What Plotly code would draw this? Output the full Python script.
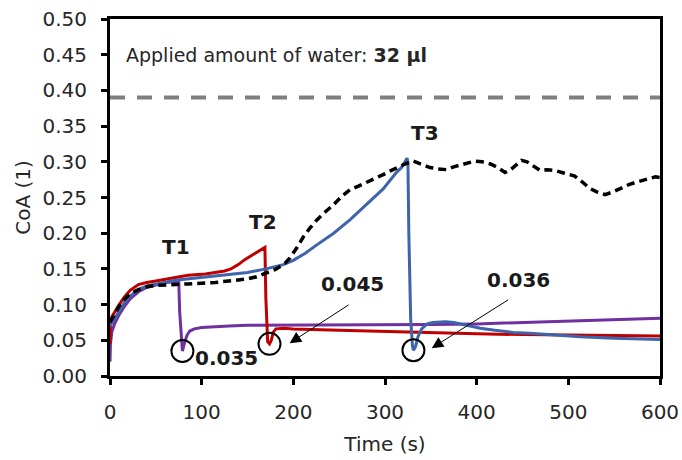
import plotly.graph_objects as go

# Coefficient of adhesion (CoA) over time; water applied at T1, T2, T3
t_ref = [0, 2, 5, 10, 16, 22, 31, 40, 50, 60, 71, 85, 100, 115, 136, 150, 160, 169, 180, 191,
         196, 204, 211, 218, 226, 235, 244, 253, 262, 271, 280, 289, 298, 307, 316, 324, 331,
         340, 349, 358, 367, 375, 384, 391, 398, 406, 415, 423, 431, 437, 443, 449, 455, 462,
         469, 477, 485, 496, 507, 515, 523, 531, 540, 549, 558, 566, 573, 581, 589, 595, 600]
coa_ref = [0.075, 0.080, 0.088, 0.098, 0.108, 0.115, 0.121, 0.125, 0.127, 0.128, 0.128, 0.129,
           0.130, 0.131, 0.134, 0.136, 0.139, 0.143, 0.149, 0.158, 0.165, 0.180, 0.195, 0.207,
           0.219, 0.230, 0.240, 0.252, 0.261, 0.266, 0.271, 0.276, 0.282, 0.288, 0.294, 0.298,
           0.301, 0.297, 0.292, 0.290, 0.289, 0.293, 0.296, 0.299, 0.301, 0.300, 0.297, 0.292,
           0.285, 0.289, 0.296, 0.302, 0.300, 0.294, 0.288, 0.289, 0.288, 0.284, 0.280, 0.272,
           0.263, 0.258, 0.254, 0.258, 0.264, 0.268, 0.271, 0.274, 0.278, 0.279, 0.278]

t_t1 = [0, 0.5, 2, 5, 10, 16, 22, 31, 40, 50, 60, 70, 74, 75, 76, 78, 79, 81, 84, 87, 92, 100,
        110, 130, 150, 200, 250, 300, 350, 400, 450, 500, 550, 600]
coa_t1 = [0.020, 0.045, 0.062, 0.073, 0.086, 0.098, 0.108, 0.118, 0.124, 0.128, 0.131, 0.132,
          0.133, 0.133, 0.090, 0.040, 0.035, 0.045, 0.057, 0.063, 0.066, 0.068, 0.069, 0.070,
          0.071, 0.071, 0.072, 0.072, 0.072, 0.073, 0.075, 0.077, 0.079, 0.081]

t_t2 = [0, 0.5, 2, 5, 10, 16, 22, 31, 40, 50, 60, 71, 85, 104, 115, 125, 132, 140, 147, 155,
        162, 167, 169, 170, 171, 172, 174, 176, 178, 181, 190, 200, 250, 300, 350, 400, 450,
        500, 550, 600]
coa_t2 = [0.045, 0.075, 0.083, 0.090, 0.100, 0.111, 0.120, 0.128, 0.131, 0.133, 0.135, 0.138,
          0.141, 0.143, 0.145, 0.147, 0.150, 0.156, 0.163, 0.169, 0.175, 0.179, 0.180, 0.110,
          0.060, 0.048, 0.045, 0.050, 0.061, 0.066, 0.067, 0.066, 0.064, 0.062, 0.061, 0.059,
          0.058, 0.057, 0.057, 0.056]

t_t3 = [0, 2, 5, 10, 16, 22, 31, 40, 50, 60, 71, 85, 104, 125, 150, 170, 189, 200, 213, 226,
        244, 262, 280, 298, 313, 318, 324, 325, 326, 328, 330, 331, 333, 336, 340, 346, 352,
        360, 366, 375, 382, 392, 404, 420, 440, 458, 480, 513, 550, 600]
coa_t3 = [0.070, 0.074, 0.080, 0.091, 0.103, 0.112, 0.121, 0.126, 0.129, 0.131, 0.134, 0.136,
          0.138, 0.141, 0.145, 0.150, 0.156, 0.162, 0.172, 0.184, 0.200, 0.219, 0.240, 0.262,
          0.286, 0.292, 0.305, 0.300, 0.200, 0.080, 0.042, 0.036, 0.040, 0.055, 0.066, 0.073,
          0.075, 0.076, 0.076, 0.075, 0.073, 0.070, 0.067, 0.064, 0.061, 0.060, 0.058, 0.055,
          0.053, 0.051]

water_limit = 0.39
applied_water = "32 µl"

# minima after each water application
min_labels = ["0.035", "0.045", "0.036"]
min_times = [79, 174, 331]
min_values = [0.035, 0.045, 0.036]

FONT = "DejaVu Sans"
TXT = "#262626"

fig = go.Figure()

fig.add_trace(go.Scatter(x=[0, 600], y=[water_limit, water_limit], mode="lines",
                         line=dict(color="#7f7f7f", width=4, dash="15px,12px"), hoverinfo="skip"))
fig.add_trace(go.Scatter(x=t_t1, y=coa_t1, mode="lines", line=dict(color="#7030A0", width=3)))
fig.add_trace(go.Scatter(x=t_t2, y=coa_t2, mode="lines", line=dict(color="#C00000", width=3)))
fig.add_trace(go.Scatter(x=t_t3, y=coa_t3, mode="lines", line=dict(color="#3E64AC", width=3)))
fig.add_trace(go.Scatter(x=t_ref, y=coa_ref, mode="lines",
                         line=dict(color="#000000", width=3.5, dash="8px,5px")))

# circles around the minima
for tm, vm in zip(min_times, min_values):
    fig.add_shape(type="circle", xref="x", yref="y", xsizemode="pixel", ysizemode="pixel",
                  xanchor=tm, yanchor=vm, x0=-11, x1=11, y0=-11, y1=11,
                  line=dict(color="black", width=2))

ann_font = dict(family=FONT, size=19, color=TXT)
bold_font = dict(family=FONT, size=20, color="#1a1a1a")

fig.add_annotation(x=15, y=0.449, xref="x", yref="y", xanchor="left", yanchor="middle",
                   text=f"Applied amount of water: <b>{applied_water}</b>", showarrow=False,
                   font=ann_font)

for txt, x, y in [("T1", 72, 0.180), ("T2", 167, 0.216), ("T3", 344, 0.340)]:
    fig.add_annotation(x=x, y=y, xref="x", yref="y", text=f"<b>{txt}</b>", showarrow=False,
                       font=bold_font)

label_pos = [(127, 0.025), (264, 0.129), (446, 0.135)]
for txt, (x, y) in zip(min_labels, label_pos):
    fig.add_annotation(x=x, y=y, xref="x", yref="y", text=f"<b>{txt}</b>", showarrow=False,
                       font=bold_font)

# arrows pointing at the second and third minima
for (hx, hy), (tx, ty) in [((196, 0.046), (262, 0.101)), ((351, 0.039), (436, 0.108))]:
    fig.add_annotation(x=hx, y=hy, ax=tx, ay=ty, xref="x", yref="y", axref="x", ayref="y",
                       text="", showarrow=True, arrowhead=2, arrowsize=2.3, arrowwidth=1,
                       arrowcolor="black")

fig.update_layout(
    width=682, height=460,
    margin=dict(l=110, r=22, t=19, b=84),
    paper_bgcolor="white", plot_bgcolor="white",
    showlegend=False,
    font=dict(family=FONT, size=20, color=TXT),
)
fig.update_xaxes(range=[0, 600], dtick=100, showgrid=False, zeroline=False, automargin=False,
                 showline=True, linecolor="black", linewidth=3, mirror=True,
                 ticks="outside", ticklen=6, tickwidth=3, tickcolor="black",
                 ticklabelstandoff=10, tickfont=dict(family=FONT, size=20, color=TXT),
                 title=dict(text="Time (s)", standoff=14, font=dict(family=FONT, size=20)))
fig.update_yaxes(range=[0, 0.5], dtick=0.05, tickformat=".2f", showgrid=False, zeroline=False,
                 automargin=False,
                 showline=True, linecolor="black", linewidth=3, mirror=True,
                 ticks="outside", ticklen=6, tickwidth=3, tickcolor="black",
                 ticklabelstandoff=10, tickfont=dict(family=FONT, size=20, color=TXT),
                 title=dict(text="CoA (1)", standoff=7, font=dict(family=FONT, size=20)))

fig.write_html("out.html")
